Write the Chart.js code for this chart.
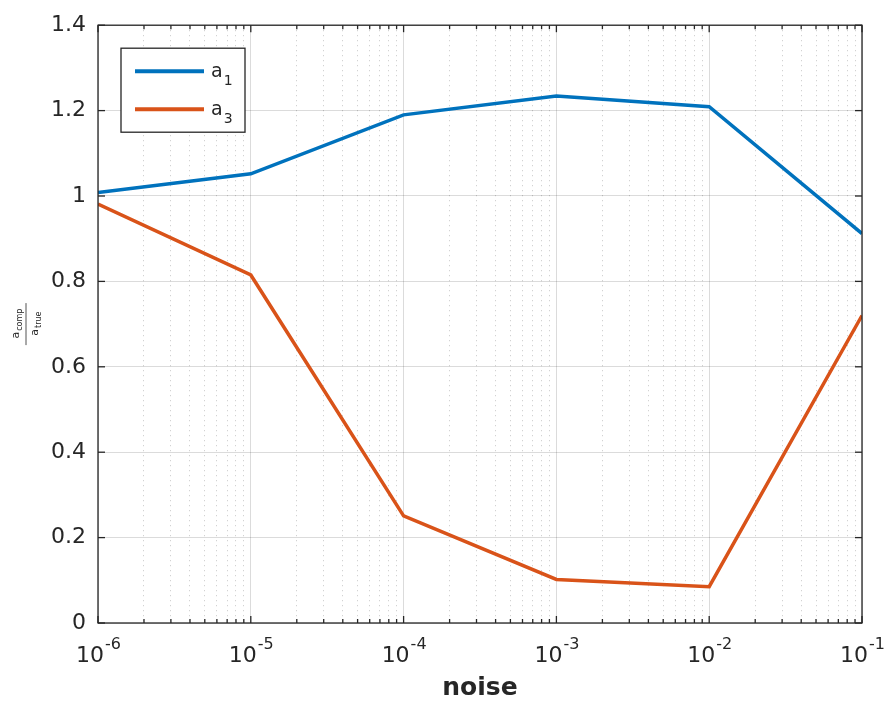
<!DOCTYPE html>
<html>
<head>
<meta charset="utf-8">
<script src="https://cdn.jsdelivr.net/npm/chart.js@4.4.0/dist/chart.umd.min.js"></script>
<style>
  body { margin: 0; background: #fff; }
  #wrap { width: 886px; height: 702px; }
</style>
</head>
<body>
<div id="wrap"><canvas id="noiseChart"></canvas></div>
<script>
// data
const noiseLevels = [1e-6, 1e-5, 1e-4, 1e-3, 1e-2, 1e-1];
const a1Values = [1.008, 1.052, 1.19, 1.234, 1.209, 0.912];
const a3Values = [0.981, 0.815, 0.251, 0.102, 0.085, 0.72];
const seriesNames = ['a_1', 'a_3'];
const decadeExponents = [-6, -5, -4, -3, -2, -1];
const yTicks = [0, 0.2, 0.4, 0.6, 0.8, 1, 1.2, 1.4];

const textColor = '#262626';
const font = 'DejaVu Sans';

const isDecade = v => Math.abs(Math.log10(v) - Math.round(Math.log10(v))) < 1e-9;

// 1..9 per decade for the dotted minor grid
const minorTicks = [];
decadeExponents.slice(0, -1).forEach(e => {
    for (let k = 1; k <= 9; k++) minorTicks.push(k * Math.pow(10, e));
});
minorTicks.push(Math.pow(10, decadeExponents[decadeExponents.length - 1]));

const toPoints = vals => vals.map((v, i) => ({ x: noiseLevels[i], y: v }));

function drawSubText(ctx, x, y, main, sub, mainSize, subSize, drop, align) {
    ctx.font = mainSize + 'px "' + font + '"';
    const w1 = ctx.measureText(main).width;
    ctx.font = subSize + 'px "' + font + '"';
    const w2 = ctx.measureText(sub).width;
    let start = x;
    if (align === 'center') start = x - (w1 + w2) / 2;
    ctx.textAlign = 'left';
    ctx.font = mainSize + 'px "' + font + '"';
    ctx.fillText(main, start, y);
    ctx.font = subSize + 'px "' + font + '"';
    ctx.fillText(sub, start + w1 + 1, y + drop);
}

const matlabAxes = {
    id: 'matlabAxes',
    afterDraw(chart) {
        const { ctx, chartArea: a, scales } = chart;
        const x = scales.x, y = scales.y;
        ctx.save();
        ctx.strokeStyle = textColor;
        ctx.fillStyle = textColor;
        ctx.lineWidth = 1.3;

        const seg = (x1, y1, x2, y2) => {
            ctx.beginPath(); ctx.moveTo(x1, y1); ctx.lineTo(x2, y2); ctx.stroke();
        };

        // box
        ctx.strokeRect(a.left, a.top, a.right - a.left, a.bottom - a.top);

        // inward ticks
        x.ticks.forEach(t => {
            const px = x.getPixelForValue(t.value);
            const len = isDecade(t.value) ? 7 : 4;
            seg(px, a.bottom, px, a.bottom - len);
            seg(px, a.top, px, a.top + len);
        });
        y.ticks.forEach(t => {
            const py = y.getPixelForValue(t.value);
            seg(a.left, py, a.left + 7, py);
            seg(a.right, py, a.right - 7, py);
        });

        // x tick labels 10^e
        ctx.textBaseline = 'alphabetic';
        decadeExponents.forEach(e => {
            const px = x.getPixelForValue(Math.pow(10, e));
            drawSubText(ctx, px, a.bottom + 39, '10', String(e), 22, 16, -13, 'center');
        });

        // x title
        ctx.font = 'bold 25px "' + font + '"';
        ctx.textAlign = 'center';
        ctx.fillText('noise', (a.left + a.right) / 2, a.bottom + 72);

        // y label as a small fraction
        ctx.save();
        ctx.translate(26, (a.top + a.bottom) / 2);
        ctx.rotate(-Math.PI / 2);
        ctx.lineWidth = 0.8;
        seg(-21, 0, 21, 0);
        drawSubText(ctx, 0, -7, 'a', 'comp', 11, 8, 3, 'center');
        drawSubText(ctx, 0, 12, 'a', 'true', 11, 8, 3, 'center');
        ctx.restore();

        // legend
        const lx = a.left + 23, ly = a.top + 23, lw = 124, lh = 84;
        ctx.fillStyle = '#fff';
        ctx.fillRect(lx, ly, lw, lh);
        ctx.lineWidth = 1.3;
        ctx.strokeRect(lx, ly, lw, lh);
        chart.data.datasets.forEach((ds, i) => {
            const yy = ly + 23 + i * 38;
            ctx.strokeStyle = ds.borderColor;
            ctx.lineWidth = 4;
            seg(lx + 14, yy, lx + 83, yy);
            ctx.fillStyle = textColor;
            const parts = ds.label.split('_');
            drawSubText(ctx, lx + 90, yy + 6, parts[0], parts[1], 19, 14, 8, 'left');
        });
        ctx.restore();
    }
};

new Chart(document.getElementById('noiseChart'), {
    type: 'line',
    data: {
        datasets: [
            { label: seriesNames[0], data: toPoints(a1Values), borderColor: '#0072BD', borderWidth: 3.5, pointRadius: 0, tension: 0 },
            { label: seriesNames[1], data: toPoints(a3Values), borderColor: '#D95319', borderWidth: 3.5, pointRadius: 0, tension: 0 }
        ]
    },
    options: {
        responsive: true,
        maintainAspectRatio: false,
        animation: false,
        layout: { padding: { top: 20, right: 24, left: 0, bottom: 0 } },
        plugins: {
            legend: { display: false },
            tooltip: { enabled: false }
        },
        scales: {
            x: {
                type: 'logarithmic',
                position: 'bottom',
                min: noiseLevels[0],
                max: noiseLevels[noiseLevels.length - 1],
                afterBuildTicks: s => { s.ticks = minorTicks.map(v => ({ value: v })); },
                afterFit: s => { s.height = 79; },
                ticks: { display: false },
                grid: {
                    color: c => (c.tick && isDecade(c.tick.value)) ? 'rgba(0,0,0,0)' : 'rgba(0,0,0,0.22)',
                    drawTicks: false,
                    lineWidth: 1
                },
                border: { display: false, dash: [1, 4] }
            },
            xMajor: {
                type: 'logarithmic',
                position: 'bottom',
                min: noiseLevels[0],
                max: noiseLevels[noiseLevels.length - 1],
                afterBuildTicks: s => { s.ticks = decadeExponents.map(e => ({ value: Math.pow(10, e) })); },
                afterFit: s => { s.height = 0; },
                ticks: { display: false },
                grid: { color: 'rgba(0,0,0,0.14)', drawTicks: false, lineWidth: 1 },
                border: { display: false }
            },
            y: {
                min: 0,
                max: 1.4,
                afterBuildTicks: s => { s.ticks = yTicks.map(v => ({ value: v })); },
                afterFit: s => { s.width = 98; },
                ticks: {
                    color: textColor,
                    padding: 12,
                    font: { family: font, size: 22 },
                    callback: v => String(v)
                },
                grid: { color: 'rgba(0,0,0,0.14)', drawTicks: false, lineWidth: 1 },
                border: { display: false }
            }
        }
    },
    plugins: [matlabAxes]
});
</script>
</body>
</html>
